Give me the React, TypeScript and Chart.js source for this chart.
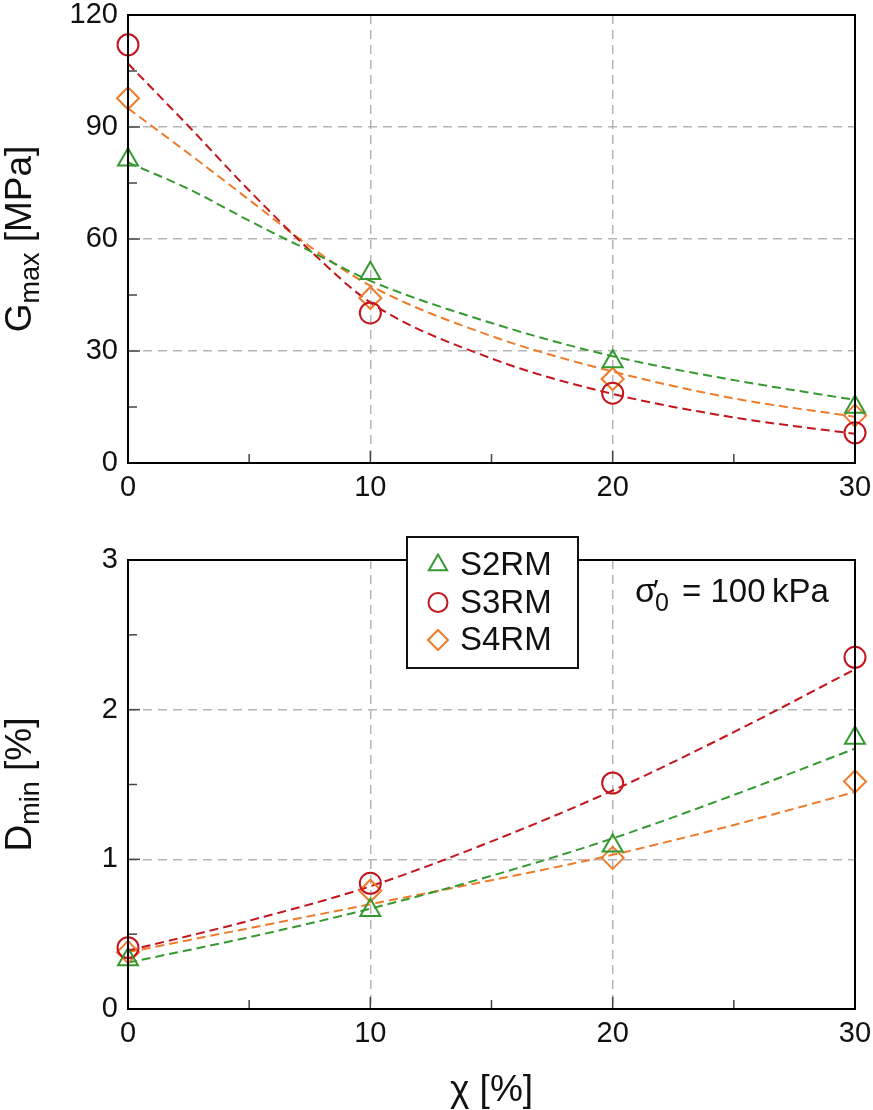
import Chart from 'chart.js/auto';
import { drawPoint } from 'chart.js/helpers';
import { useEffect, useRef } from 'react';

// x values of the measured points
const chi = [0, 10, 20, 30];

// G_max [MPa] measured
const gmaxS2 = [81.2, 50.8, 27.2, 15.0];
const gmaxS3 = [112, 40.2, 18.7, 8.1];
const gmaxS4 = [97.7, 44.2, 22.5, 12.7];

// G_max fitted curves
const gmaxFitChi = [0, 2.5, 5, 7.5, 10, 15, 20, 25, 30];
const gmaxFitS2 = [80.5, 73.4, 64.9, 56.8, 48.8, 37.5, 28.6, 22.2, 16.9];
const gmaxFitS3 = [107, 90.2, 73, 57, 43, 28, 18.5, 12.2, 7.8];
const gmaxFitS4 = [95, 82.9, 70.5, 58, 47.5, 34, 24.5, 17.3, 12.4];

// D_min [%] measured
const dminS2 = [0.33, 0.66, 1.09, 1.81];
const dminS3 = [0.41, 0.84, 1.51, 2.35];
const dminS4 = [0.38, 0.79, 1.01, 1.52];

// D_min fitted curves
const dminFitChi = [0, 5, 10, 15, 20, 25, 30];
const dminFitS2 = [0.31, 0.48, 0.67, 0.89, 1.14, 1.43, 1.74];
const dminFitS3 = [0.39, 0.59, 0.82, 1.12, 1.46, 1.85, 2.27];
const dminFitS4 = [0.38, 0.54, 0.7, 0.86, 1.03, 1.23, 1.45];

const seriesNames = ['S2RM', 'S3RM', 'S4RM'];

const FONT = '"Liberation Sans", Arial, Helvetica, sans-serif';
const RED = '#c3161c';
const GREEN = '#349a2f';
const ORANGE = '#ee7b2a';
const GRID = '#b5b5b5';
const NONE = 'rgba(0,0,0,0)';

const toXY = (xs: number[], ys: number[]) => xs.map((x, i) => ({ x, y: ys[i] }));

const markers = (label: string, ys: number[], color: string, style: string, r: number) => ({
    label,
    data: toXY(chi, ys),
    showLine: false,
    pointStyle: style,
    pointRadius: r,
    pointBorderWidth: 2,
    pointBorderColor: color,
    pointBackgroundColor: NONE,
    borderColor: color,
    backgroundColor: NONE,
    clip: false,
});

const fitLine = (xs: number[], ys: number[], color: string) => ({
    label: '',
    data: toXY(xs, ys),
    showLine: true,
    borderColor: color,
    borderWidth: 2,
    borderDash: [9, 5],
    pointRadius: 0,
    cubicInterpolationMode: 'monotone',
    fill: false,
});

const xAxis = (height: number) => ({
    type: 'linear',
    min: 0,
    max: 30,
    afterFit: (s: any) => {
        s.height = height;
        // keep the plot edges where they are, labels may hang over
        s.paddingLeft = 0;
        s.paddingRight = 0;
    },
    ticks: {
        stepSize: 5,
        autoSkip: false,
        maxRotation: 0,
        padding: 10,
        color: '#111',
        font: { family: FONT, size: 29, lineHeight: 1 },
        callback: (v: number) => (v % 10 === 0 ? String(v) : ''),
    },
    grid: {
        drawTicks: false,
        lineWidth: 1.5,
        color: (c: any) => (c.tick && c.tick.value > 0 && c.tick.value < 30 && c.tick.value % 10 === 0 ? GRID : NONE),
    },
    border: { display: false, dash: [9, 6] },
});

const yAxis = (max: number, step: number, major: number) => ({
    type: 'linear',
    min: 0,
    max,
    afterFit: (s: any) => {
        s.width = 128;
        s.paddingTop = 0;
        s.paddingBottom = 0;
    },
    ticks: {
        stepSize: step,
        autoSkip: false,
        padding: 10,
        color: '#111',
        font: { family: FONT, size: 29, lineHeight: 1 },
        callback: (v: number) => (Math.abs(v / major - Math.round(v / major)) < 1e-6 ? String(v) : ''),
    },
    grid: {
        drawTicks: false,
        lineWidth: 1.5,
        color: (c: any) => {
            if (!c.tick) return NONE;
            const v = c.tick.value;
            const isMajor = Math.abs(v / major - Math.round(v / major)) < 1e-6;
            return isMajor && v > 0 && v < max ? GRID : NONE;
        },
    },
    border: { display: false, dash: [9, 6] },
});

// frame and inward ticks
const framePlugin = {
    id: 'frame',
    afterDatasetsDraw(chart: any) {
        const { ctx, chartArea: a, scales } = chart;
        ctx.save();
        ctx.strokeStyle = '#444';
        ctx.lineWidth = 1.5;
        scales.x.ticks.forEach((t: any) => {
            if (t.value <= scales.x.min || t.value >= scales.x.max) return;
            const px = scales.x.getPixelForValue(t.value);
            const len = t.label ? 12 : 9;
            ctx.beginPath();
            ctx.moveTo(px, a.bottom);
            ctx.lineTo(px, a.bottom - len);
            ctx.stroke();
        });
        scales.y.ticks.forEach((t: any) => {
            if (t.value <= scales.y.min || t.value >= scales.y.max) return;
            const py = scales.y.getPixelForValue(t.value);
            const len = t.label ? 12 : 9;
            ctx.beginPath();
            ctx.moveTo(a.left, py);
            ctx.lineTo(a.left + len, py);
            ctx.stroke();
        });
        ctx.strokeStyle = '#000';
        ctx.lineWidth = 2;
        ctx.strokeRect(a.left, a.top, a.right - a.left, a.bottom - a.top);
        ctx.restore();
    },
};

const drawYTitle = (ctx: CanvasRenderingContext2D, x: number, cy: number, main: string, sub: string, tail: string) => {
    ctx.save();
    ctx.fillStyle = '#111';
    ctx.textAlign = 'left';
    ctx.textBaseline = 'alphabetic';
    const big = `37px ${FONT}`;
    const small = `27px ${FONT}`;
    ctx.font = big;
    const w1 = ctx.measureText(main).width;
    const w3 = ctx.measureText(' ' + tail).width;
    ctx.font = small;
    const w2 = ctx.measureText(sub).width;
    const start = -(w1 + w2 + w3) / 2;
    ctx.translate(x, cy);
    ctx.rotate(-Math.PI / 2);
    ctx.font = big;
    ctx.fillText(main, start, 0);
    ctx.fillText(' ' + tail, start + w1 + w2, 0);
    ctx.font = small;
    ctx.fillText(sub, start + w1, 8);
    ctx.restore();
};

const topTitlePlugin = {
    id: 'topTitle',
    afterDraw(chart: any) {
        const a = chart.chartArea;
        drawYTitle(chart.ctx, 31, (a.top + a.bottom) / 2, 'G', 'max', '[MPa]');
    },
};

const bottomDecorPlugin = {
    id: 'bottomDecor',
    afterDraw(chart: any) {
        const { ctx, chartArea: a } = chart;
        drawYTitle(ctx, 31, (a.top + a.bottom) / 2, 'D', 'min', '[%]');

        // x title
        ctx.save();
        ctx.fillStyle = '#111';
        ctx.font = `37px ${FONT}`;
        ctx.textAlign = 'center';
        ctx.textBaseline = 'alphabetic';
        ctx.fillText('χ [%]', (a.left + a.right) / 2, a.bottom + 92);
        ctx.restore();

        // stress annotation
        ctx.save();
        ctx.fillStyle = '#111';
        ctx.textAlign = 'left';
        ctx.textBaseline = 'alphabetic';
        const ax = a.right - 220;
        const ay = a.top + 42;
        ctx.font = `34px ${FONT}`;
        ctx.fillText('σ', ax, ay);
        const ws = ctx.measureText('σ').width;
        ctx.font = `30px ${FONT}`;
        ctx.fillText('′', ax + ws - 3, ay - 2);
        ctx.font = `25px ${FONT}`;
        ctx.fillText('0', ax + ws - 1, ay + 9);
        ctx.font = `33px ${FONT}`;
        ctx.fillText('= 100\u2009kPa', ax + 47, ay);
        ctx.restore();

        // legend
        const bx = a.left + 279;
        const by = a.top - 23;
        ctx.save();
        ctx.fillStyle = '#fff';
        ctx.fillRect(bx, by, 171, 131);
        ctx.strokeStyle = '#111';
        ctx.lineWidth = 2;
        ctx.strokeRect(bx, by, 171, 131);
        const sets = chart.data.datasets.filter((d: any) => d.showLine === false);
        sets.forEach((d: any, i: number) => {
            const cy = by + 28 + i * 37.5;
            ctx.strokeStyle = d.pointBorderColor;
            ctx.fillStyle = NONE;
            ctx.lineWidth = 2;
            drawPoint(ctx, { pointStyle: d.pointStyle, rotation: 0, radius: d.pointRadius - 1, borderWidth: 2 }, bx + 31, cy);
            ctx.fillStyle = '#111';
            ctx.font = `33px ${FONT}`;
            ctx.textAlign = 'left';
            ctx.textBaseline = 'middle';
            ctx.fillText(d.label, bx + 53, cy + 1);
        });
        ctx.restore();
    },
};

const baseOptions = (yOpts: any, xHeight: number, padTop: number) => ({
    responsive: false,
    animation: false,
    layout: { padding: { left: 0, right: 18, top: padTop, bottom: 0 } },
    plugins: { legend: { display: false }, tooltip: { enabled: false } },
    scales: { x: xAxis(xHeight), y: yOpts },
});

export default function App() {
    const topRef = useRef<HTMLCanvasElement>(null);
    const bottomRef = useRef<HTMLCanvasElement>(null);

    useEffect(() => {
        const topChart = new Chart(topRef.current as HTMLCanvasElement, {
            type: 'scatter',
            data: {
                datasets: [
                    markers(seriesNames[0], gmaxS2, GREEN, 'triangle', 11.5),
                    markers(seriesNames[1], gmaxS3, RED, 'circle', 10.5),
                    markers(seriesNames[2], gmaxS4, ORANGE, 'rectRot', 11),
                    fitLine(gmaxFitChi, gmaxFitS2, GREEN),
                    fitLine(gmaxFitChi, gmaxFitS3, RED),
                    fitLine(gmaxFitChi, gmaxFitS4, ORANGE),
                ] as any,
            },
            options: baseOptions(yAxis(120, 15, 30), 52, 15) as any,
            plugins: [framePlugin, topTitlePlugin],
        });

        const bottomChart = new Chart(bottomRef.current as HTMLCanvasElement, {
            type: 'scatter',
            data: {
                datasets: [
                    markers(seriesNames[0], dminS2, GREEN, 'triangle', 11.5),
                    markers(seriesNames[1], dminS3, RED, 'circle', 10.5),
                    markers(seriesNames[2], dminS4, ORANGE, 'rectRot', 11),
                    fitLine(dminFitChi, dminFitS2, GREEN),
                    fitLine(dminFitChi, dminFitS3, RED),
                    fitLine(dminFitChi, dminFitS4, ORANGE),
                ] as any,
            },
            options: baseOptions(yAxis(3, 0.5, 1), 101, 45) as any,
            plugins: [framePlugin, bottomDecorPlugin],
        });

        return () => {
            topChart.destroy();
            bottomChart.destroy();
        };
    }, []);

    return (
        <div style={{ position: 'absolute', left: 0, top: 0, width: 873, height: 1110, background: '#fff' }}>
            <canvas ref={topRef} width={873} height={515} style={{ position: 'absolute', left: 0, top: 0 }} />
            <canvas ref={bottomRef} width={873} height={595} style={{ position: 'absolute', left: 0, top: 515 }} />
        </div>
    );
}
